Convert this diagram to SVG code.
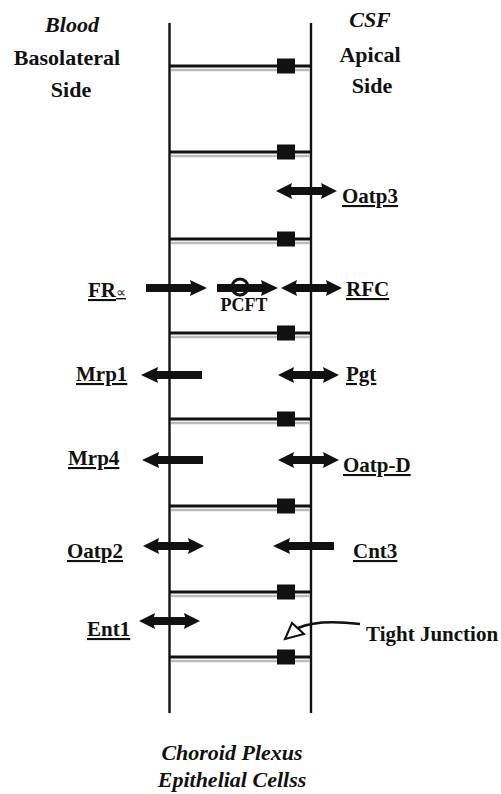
<svg xmlns="http://www.w3.org/2000/svg" width="501" height="794" viewBox="0 0 501 794">
<style>
.hdr{font-family:"Liberation Serif",serif;font-weight:bold;font-size:22px;fill:#111;text-anchor:middle}
.it{font-style:italic}
.lbl{font-family:"Liberation Serif",serif;font-weight:bold;font-size:21px;fill:#111;text-decoration:underline}
.pc{font-family:"Liberation Serif",serif;font-weight:bold;font-size:18px;fill:#111;text-anchor:middle}
.wall{stroke:#111;stroke-width:2.4;fill:none}
.tjb{stroke:#111;stroke-width:3}
.tjg{stroke:#bbb;stroke-width:2.5}
.sq{fill:#111}
.arr{fill:#111}
</style>
<defs>
<g id="tj">
<line class="tjg" x1="171" y1="4" x2="310" y2="4"/>
<line class="tjb" x1="170" y1="0" x2="311" y2="0"/>
<rect class="sq" x="277" y="-7.5" width="18" height="15"/>
</g>
<path id="dbl" class="arr" d="M0 0 L16 -8 L15 -4 L46 -4 L45 -8 L61 0 L45 8 L46 4 L15 4 L16 8 Z"/>
<path id="rgt" class="arr" d="M0 -4 L45 -4 L44 -8 L61 0 L44 8 L45 4 L0 4 Z"/>
<path id="lft" class="arr" d="M61 -4 L16 -4 L17 -8 L0 0 L17 8 L16 4 L61 4 Z"/>
</defs>

<g id="headers">
<text class="hdr it" x="72" y="32">Blood</text>
<text class="hdr" x="67" y="65">Basolateral</text>
<text class="hdr" x="71" y="97">Side</text>
<text class="hdr it" x="370" y="27">CSF</text>
<text class="hdr" x="370" y="62">Apical</text>
<text class="hdr" x="372" y="93">Side</text>
</g>

<g id="membranes">
<line class="wall" x1="169.5" y1="23" x2="169.5" y2="713"/>
<line class="wall" x1="311" y1="23" x2="311" y2="713"/>
</g>

<g id="tight-junctions">
<use href="#tj" y="66"/>
<use href="#tj" y="152"/>
<use href="#tj" y="239"/>
<use href="#tj" y="333"/>
<use href="#tj" y="419"/>
<use href="#tj" y="506"/>
<use href="#tj" y="592"/>
<use href="#tj" y="657"/>
</g>

<g id="connectors">
<use href="#dbl" x="276" y="191"/>
<use href="#rgt" x="146" y="288"/>
<use href="#rgt" x="217" y="288"/>
<use href="#dbl" x="281" y="288"/>
<use href="#lft" x="141" y="375"/>
<use href="#dbl" x="278" y="375"/>
<use href="#lft" x="142" y="460"/>
<use href="#dbl" x="278" y="460"/>
<use href="#dbl" x="143" y="546"/>
<use href="#lft" x="273" y="546"/>
<use href="#dbl" x="139" y="621"/>
<path d="M298 628 Q318 619 360 624" fill="none" stroke="#111" stroke-width="2.5"/>
<path d="M285 639 L292 623 L304 634 Z" fill="#fff" stroke="#111" stroke-width="2"/>
</g>

<g id="PCFT">
<circle cx="240" cy="287" r="8" fill="none" stroke="#111" stroke-width="3"/>
<text class="pc" x="244" y="311">PCFT</text>
</g>

<g id="FRa"><text class="lbl" x="88" y="297">FR<tspan font-size="14" font-weight="normal">∝</tspan></text></g>
<g id="RFC"><text class="lbl" x="346" y="296">RFC</text></g>
<g id="Oatp3"><text class="lbl" x="342" y="203">Oatp3</text></g>
<g id="Mrp1"><text class="lbl" x="76" y="381">Mrp1</text></g>
<g id="Pgt"><text class="lbl" x="346" y="381">Pgt</text></g>
<g id="Mrp4"><text class="lbl" x="68" y="465">Mrp4</text></g>
<g id="Oatp-D"><text class="lbl" x="343" y="472">Oatp-D</text></g>
<g id="Oatp2"><text class="lbl" x="67" y="558">Oatp2</text></g>
<g id="Cnt3"><text class="lbl" x="353" y="558">Cnt3</text></g>
<g id="Ent1"><text class="lbl" x="87" y="636">Ent1</text></g>
<g id="TightJunction"><text class="lbl" x="366" y="641" style="text-decoration:none">Tight Junction</text></g>

<g id="footer">
<text class="hdr it" x="232" y="760">Choroid Plexus</text>
<text class="hdr it" x="232" y="787">Epithelial Cellss</text>
</g>
</svg>
